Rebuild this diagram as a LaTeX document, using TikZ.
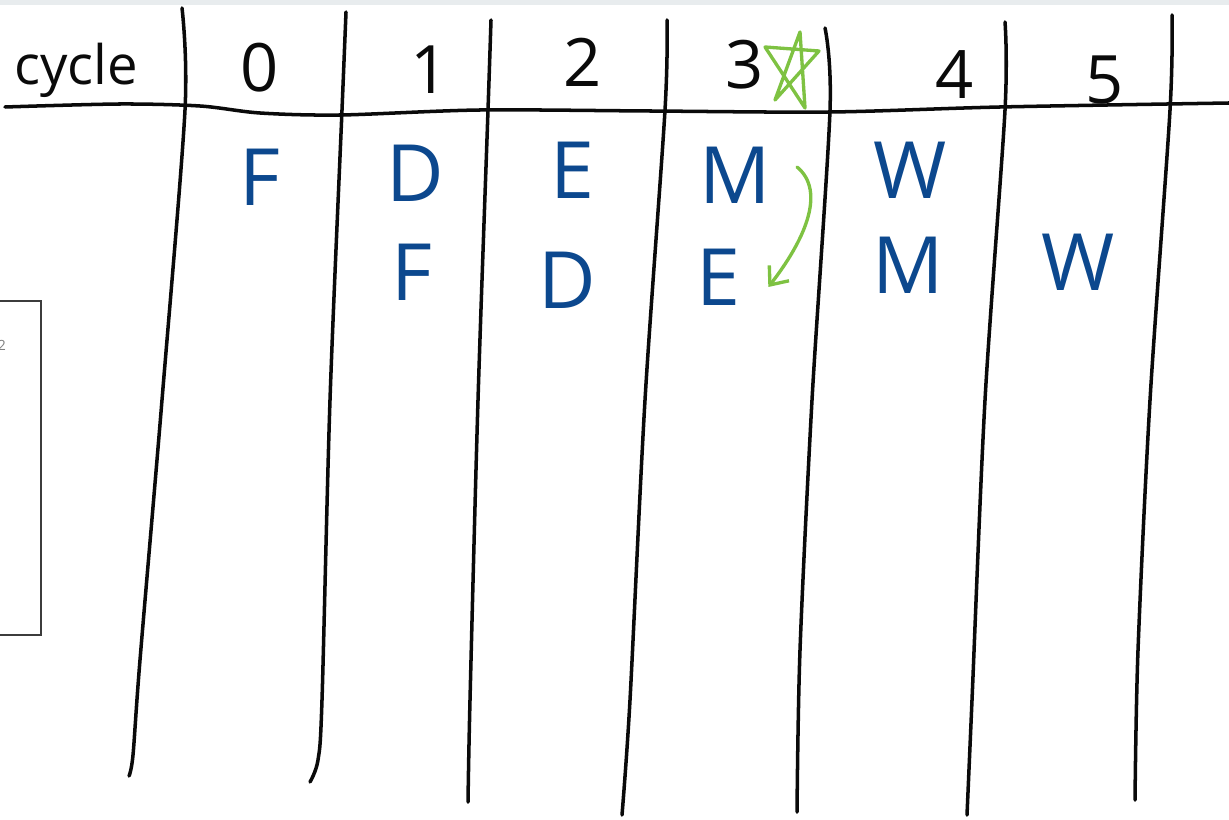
\documentclass[tikz,border=0pt]{standalone}
\usepackage{fontspec}
\setmainfont{Open Sans}
\usetikzlibrary{arrows.meta}
\definecolor{inkBlack}{RGB}{10,10,10}
\definecolor{inkBlue}{RGB}{12,72,142}
\definecolor{inkGreen}{RGB}{126,194,66}
\definecolor{barGray}{RGB}{232,236,238}
\definecolor{boxGray}{RGB}{60,60,60}

\begin{document}
\begin{tikzpicture}[
      x=0.02cm, y=-0.02cm,
      penline/.style={draw=inkBlack, line width=2pt, line cap=round, line join=round},
      headtxt/.style={text=inkBlack, font=\fontsize{38}{38}\selectfont, inner sep=0pt},
      stagetxt/.style={text=inkBlue, font=\fontsize{45}{45}\selectfont, inner sep=0pt},
      greenarr/.style={draw=inkGreen, line width=1.9pt, line cap=round,
        -{Straight Barb[length=3mm, width=5mm, line width=1.9pt]}},
    ]
    \useasboundingbox (0,0) rectangle (1229,820);
    \fill[barGray] (0,0) rectangle (1229,5);

    % ---- side panel, cut off at the left ----
    \draw[boxGray, line width=0.7pt] (-2,301) rectangle (41,635);
    \node[text=gray, font=\fontsize{8}{8}\selectfont, inner sep=0pt] (panel) at (2,345) {2};

    % ---- table rules ----
    \draw[penline] plot[smooth] coordinates
      {(5,107) (120,104) (200,106) (260,113) (340,115) (480,110) (650,111) (830,112) (1000,107) (1229,103)};
    \draw[penline] plot[smooth] coordinates {(182,8) (185,110) (162,400) (140,660) (133,755) (129,776)};
    \draw[penline] plot[smooth] coordinates {(346,12) (342,110) (330,400) (322,700) (318,760) (310,782)};
    \draw[penline] plot[smooth] coordinates {(491,20) (488,110) (478,400) (470,700) (468,802)};
    \draw[penline] plot[smooth] coordinates {(667,20) (665,110) (645,400) (630,700) (622,815)};
    \draw[penline] plot[smooth] coordinates {(825,28) (830,110) (812,400) (800,650) (797,812)};
    \draw[penline] plot[smooth] coordinates {(1005,22) (1005,110) (985,400) (972,700) (967,815)};
    \draw[penline] plot[smooth] coordinates {(1172,15) (1170,110) (1150,400) (1138,650) (1135,800)};

    % ---- header row ----
    \node[headtxt, font=\fontsize{31}{31}\selectfont] (cycle) at (76,70) {cycle};
    \node[headtxt] (c0) at (260,68) {0};
    \node[headtxt] (c1) at (430,70) {1};
    \node[headtxt] (c2) at (583,62) {2};
    \node[headtxt] (c3) at (745,65) {3};
    \node[headtxt] (c4) at (955,75) {4};
    \node[headtxt] (c5) at (1105,80) {5};
    \draw[draw=inkGreen, line width=1.9pt, line join=round, line cap=round]
      (800,32) -- (805,108) -- (765,47) -- (819,51) -- (775,100) -- cycle;

    % ---- instruction 1 ----
    \node[stagetxt] (f1) at (260,177) {F};
    \node[stagetxt] (d1) at (415,173) {D};
    \node[stagetxt] (e1) at (572,170) {E};
    \node[stagetxt] (m1) at (735,175) {M};
    \node[stagetxt] (w1) at (910,170) {W};

    % ---- instruction 2 ----
    \node[stagetxt] (f2) at (412,272) {F};
    \node[stagetxt] (d2) at (567,280) {D};
    \node[stagetxt] (e2) at (718,277) {E};
    \node[stagetxt] (m2) at (908,265) {M};
    \node[stagetxt] (w2) at (1078,262) {W};

    \draw[greenarr] ([shift={(26,-8)}]m1.east) .. controls +(30,25) and +(35,-45) ..
      ([shift={(28,10)}]e2.east);
  \end{tikzpicture}
\end{document}
